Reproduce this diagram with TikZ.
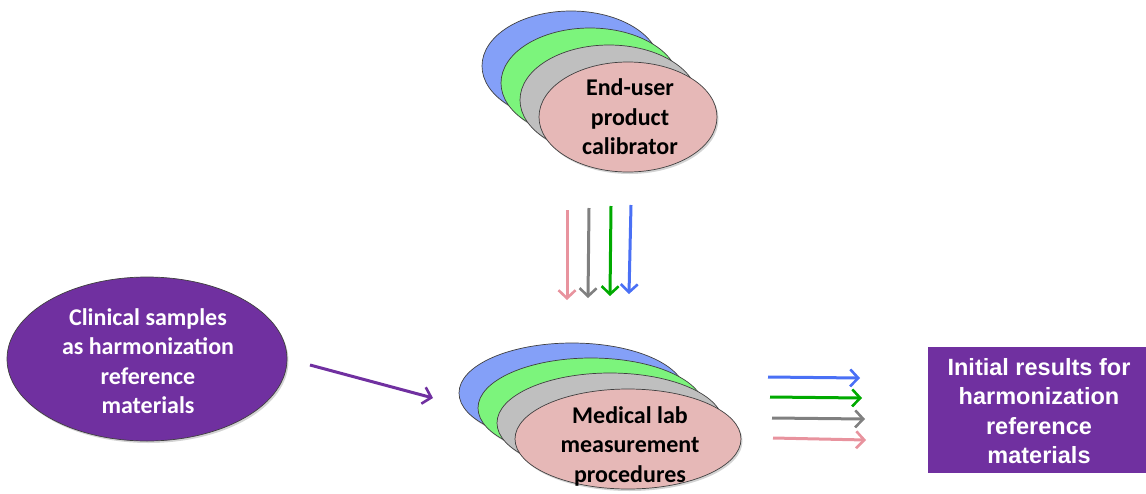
\documentclass[tikz,border=0pt]{standalone}
\usepackage{fontspec}
\setmainfont{Carlito}
\newfontfamily\arialf{Liberation Sans}
\usetikzlibrary{shapes.geometric,arrows.meta,shadows}
\definecolor{eblue}{HTML}{84A0F8}
\definecolor{egreen}{HTML}{7CF47C}
\definecolor{egray}{HTML}{BFBFBF}
\definecolor{epink}{HTML}{E6B8B7}
\definecolor{purp}{HTML}{7030A0}
\definecolor{apink}{HTML}{E8939E}
\definecolor{agray}{HTML}{808080}
\definecolor{agreen}{HTML}{00AA00}
\definecolor{ablue}{HTML}{4A70F5}
\tikzset{
  ell/.style={ellipse, draw=black!75, line width=0.7pt, inner sep=0pt,
    drop shadow={shadow xshift=1.5pt, shadow yshift=-2pt, opacity=0.35}},
  topell/.style={ell, minimum width=178pt, minimum height=110pt},
  botell/.style={ell, minimum width=226pt, minimum height=100pt},
  etext/.style={font=\fontsize{24}{29.5}\selectfont\bfseries, align=center, inner sep=0pt},
  arr/.style={line width=3pt, -{Straight Barb[length=8pt,width=17pt,line width=2.6pt]}},
}
\begin{document}
\begin{tikzpicture}[x=1pt,y=-1pt]
\useasboundingbox (0,0) rectangle (1146,493);
% top stack
\node[topell, fill=eblue] (tb) at (571,66) {};
\node[topell, fill=egreen] (tg) at (590,83) {};
\node[topell, fill=egray] (tr) at (609,100) {};
\node[topell, fill=epink] (tp) at (628,117) {};
\node[etext] (tt) at (630,117) {End-user\\product\\calibrator};
% bottom stack
\node[botell, fill=eblue] (bb) at (572,393) {};
\node[botell, fill=egreen] (bg) at (591,408) {};
\node[botell, fill=egray] (br) at (610,423) {};
\node[botell, fill=epink] (bp) at (628,439) {};
\node[etext] (bt) at (630,446) {Medical lab\\measurement\\procedures};
% left ellipse
\node[ell, fill=purp, minimum width=280pt, minimum height=164pt] (cs) at (147,359) {};
\node[etext, text=white] (cst) at (148,361) {Clinical samples\\as harmonization\\reference\\materials};
% right box
\node[fill=purp, minimum width=218pt, minimum height=126pt, inner sep=0pt] (ir) at (1037,410) {};
\node[font=\arialf\fontsize{23.5}{29.3}\selectfont\bfseries, text=white, align=center, inner sep=0pt] (irt) at (1039,411) {Initial results for\\harmonization\\reference\\materials};
% arrow end points
\coordinate (d1s) at (567,210); \coordinate (d1e) at (567,300);
\coordinate (d2s) at (589,208); \coordinate (d2e) at (588,298);
\coordinate (d3s) at (611,206); \coordinate (d3e) at (610,296);
\coordinate (d4s) at (631,205); \coordinate (d4e) at (629,294);
\draw[arr, apink] (d1s) -- (d1e);
\draw[arr, agray] (d2s) -- (d2e);
\draw[arr, agreen] (d3s) -- (d3e);
\draw[arr, ablue] (d4s) -- (d4e);
\coordinate (r1s) at (768,377); \coordinate (r1e) at (860,378);
\coordinate (r2s) at (770,397); \coordinate (r2e) at (862,398);
\coordinate (r3s) at (772,418); \coordinate (r3e) at (865,419);
\coordinate (r4s) at (773,438); \coordinate (r4e) at (866,440);
\draw[arr, ablue] (r1s) -- (r1e);
\draw[arr, agreen] (r2s) -- (r2e);
\draw[arr, agray] (r3s) -- (r3e);
\draw[arr, apink] (r4s) -- (r4e);
\coordinate (ps) at (310,365); \coordinate (pe) at (433,398);
\draw[arr, purp] (ps) -- (pe);
\end{tikzpicture}
\end{document}
